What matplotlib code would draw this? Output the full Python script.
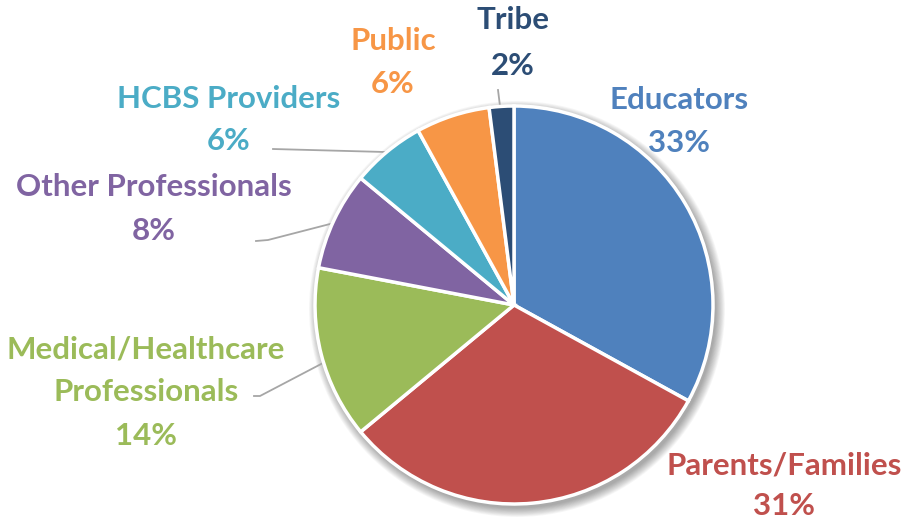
import matplotlib.pyplot as plt
import numpy as np
from matplotlib.patches import Circle

# data
groups = ["Educators", "Parents/Families", "Medical/Healthcare\nProfessionals",
          "Other Professionals", "HCBS Providers", "Public", "Tribe"]
shares = [33, 31, 14, 8, 6, 6, 2]
colors = ["#4F81BD", "#C0504D", "#9BBB59", "#8064A2", "#4BACC6", "#F79646", "#2C4D75"]

fam = "Lato"

W, H = 908, 520
fig = plt.figure(figsize=(W / 100, H / 100), dpi=100)
ax = fig.add_axes([0, 0, 1, 1])

cx, cy, r = 514, 305, 199

# soft shadow
for k in range(12):
    ax.add_patch(Circle((cx + 3, cy + 4), r + 9 - k * 0.8, color="black",
                        alpha=0.03, lw=0, zorder=0))

wedges, _ = ax.pie(shares, colors=colors, startangle=90, counterclock=False,
                   radius=r, center=(cx, cy), frame=True,
                   wedgeprops=dict(edgecolor="white", linewidth=2.5))
# pie flips with the inverted y axis; mirror wedges back
for w in wedges:
    w.set_zorder(2)
    t1, t2 = w.theta1, w.theta2
    w.set_theta1(-t2)
    w.set_theta2(-t1)
ax.set_xlim(0, W)
ax.set_ylim(H, 0)
ax.set_aspect("equal")
ax.axis("off")

# label anchors: x, y of each text line
label_pos = {
    "Educators": (679, [100, 143]),
    "Parents/Families": (784, [465, 506]),
    "Medical/Healthcare\nProfessionals": (146, [350, 392, 436]),
    "Other Professionals": (154, [187, 231]),
    "HCBS Providers": (229, [99, 141]),
    "Public": (393, [41, 84]),
    "Tribe": (513, [20, 66]),
}
for g, s, c in zip(groups, shares, colors):
    x, ys = label_pos[g]
    lines = g.split("\n") + [f"{s}%"]
    for line, y in zip(lines, ys):
        ax.text(x, y, line, color=c, ha="center", va="center", fontsize=22.5,
                fontweight="bold", family=fam, zorder=5)

# leader lines
lc = "#A6A6A6"
ax.plot([498, 500], [90, 106], color=lc, lw=1.3, zorder=1)
ax.plot([273, 385], [149, 152], color=lc, lw=1.3, zorder=1)
ax.plot([256, 268, 330], [241, 240, 224], color=lc, lw=1.3, zorder=1)
ax.plot([254, 260, 323], [396, 396, 363], color=lc, lw=1.3, zorder=1)

fig.savefig("out.png", dpi=100, facecolor="white")
